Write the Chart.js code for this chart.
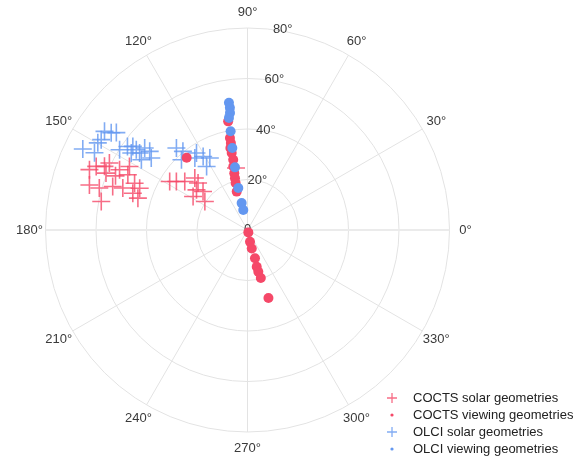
<!DOCTYPE html>
<html>
<head>
<meta charset="utf-8">
<script src="https://cdn.jsdelivr.net/npm/chart.js@4/dist/chart.umd.min.js"></script>
<style>
  html, body { margin: 0; padding: 0; background: #fff; }
  #wrap { width: 583px; height: 457px; position: relative; }
</style>
</head>
<body>
<div id="wrap"><canvas id="polar"></canvas></div>
<script>
// ===============================
// DATA (azimuth in degrees, zenith in degrees)
// ===============================

const angleTicks = [0, 30, 60, 90, 120, 150, 180, 210, 240, 270, 300, 330];
const radialTicks = [20, 40, 60, 80];
const radialMax = 80;

const coctsSolarAz = [159.1, 157.2, 156, 154.1, 158.1, 164.1, 164.2, 162.1, 161.4, 155.2, 157.5, 158.8, 162.2, 163.8, 169, 154.8, 151.7, 157.7, 148.1, 145.7, 142.3, 135.4, 136.5, 141.8, 139.1, 148.4, 146.3, 100.5];
const coctsSolarZen = [67, 65, 62, 60.8, 60.4, 65.1, 61, 56.1, 52.1, 52.2, 48.4, 45.8, 47.7, 45.2, 59, 56, 53.1, 56.5, 36.3, 34.1, 31.4, 29.3, 27, 25.7, 23.3, 25.3, 20.3, 25];

const olciSolarAz = [153.8, 145.4, 144.5, 143.4, 148.3, 153.2, 149.8, 146.5, 144.2, 144.5, 141.4, 141.2, 146.5, 143.9, 143.2, 147.9, 145.2, 130.9, 129.4, 133.2, 123.5, 121.1, 117.6, 122.8, 126.2];
const olciSolarZen = [72.7, 68.8, 66.3, 64.7, 68.1, 67.9, 68.6, 55.2, 54.3, 52.5, 52.1, 49.7, 50.4, 56.2, 47.6, 59.8, 57.9, 43, 40.3, 38.2, 36.6, 34, 32.2, 29.9, 35.3];

const coctsViewAz = [100.1, 100.8, 100.8, 101.6, 101.5, 103.1, 103.6, 104.2, 105.7, 102.6, 101.8, 130.1, 289, 282, 283, 284.8, 284.1, 284.5, 285.5, 287.1];
const coctsViewZen = [43.7, 37.1, 35.1, 31.1, 28.4, 23.1, 21.1, 19.2, 15.8, 25.8, 33.2, 37.4, 1, 4.8, 7.5, 11.6, 15, 17.1, 19.7, 28.2];

const olciViewAz = [98.3, 98.2, 98.5, 99.4, 99.7, 100.5, 101.3, 102.4, 102.3, 101.9];
const olciViewZen = [50.9, 48.9, 46.9, 45, 39.7, 33, 25.3, 17, 10.9, 8.1];

const seriesLabels = ["COCTS solar geometries", "COCTS viewing geometries", "OLCI solar geometries", "OLCI viewing geometries"];

// ===============================
// HELPERS
// ===============================

const RED = "rgba(245, 72, 104, 1)";
const RED_T = "rgba(245, 72, 104, 0.8)";
const BLUE = "rgba(99, 151, 240, 1)";
const BLUE_T = "rgba(99, 151, 240, 0.8)";
const FONT = "'Liberation Sans', Arial, sans-serif";

function toXY(az, zen) {
  return az.map((a, i) => {
    const t = a * Math.PI / 180;
    return { x: zen[i] * Math.cos(t), y: zen[i] * Math.sin(t) };
  });
}

// polar grid + labels drawn under the points
const polarGrid = {
  id: "polarGrid",
  beforeDatasetsDraw(chart) {
    const ctx = chart.ctx;
    const xs = chart.scales.x, ys = chart.scales.y;
    const cx = xs.getPixelForValue(0);
    const cy = ys.getPixelForValue(0);
    const unit = xs.getPixelForValue(1) - cx;
    const R = radialMax * unit;

    ctx.save();
    ctx.strokeStyle = "#e3e3e3";
    ctx.lineWidth = 1;

    angleTicks.forEach(a => {
      const t = a * Math.PI / 180;
      ctx.beginPath();
      ctx.moveTo(cx, cy);
      ctx.lineTo(cx + R * Math.cos(t), cy - R * Math.sin(t));
      ctx.stroke();
    });

    radialTicks.forEach(r => {
      ctx.beginPath();
      ctx.arc(cx, cy, r * unit, 0, Math.PI * 2);
      ctx.stroke();
    });

    // radial axis along 0/180
    ctx.strokeStyle = "#ebebeb";
    ctx.lineWidth = 2;
    ctx.beginPath();
    ctx.moveTo(cx - R, cy);
    ctx.lineTo(cx + R, cy);
    ctx.stroke();

    ctx.fillStyle = "#3a3a3a";
    ctx.font = "13px " + FONT;
    ctx.textAlign = "center";
    ctx.textBaseline = "middle";
    angleTicks.forEach(a => {
      const t = a * Math.PI / 180;
      const d = R + 16;
      ctx.fillText(a + "°", cx + d * Math.cos(t), cy - d * Math.sin(t));
    });

    ctx.textAlign = "left";
    radialTicks.forEach(r => {
      const rp = r * unit;
      ctx.fillText(r + "°", cx + (rp - 50) * 0.167, cy - rp + 1);
    });
    ctx.textAlign = "center";
    ctx.fillText("0", cx, cy - 1);
    ctx.restore();
  }
};

// legend in the lower right
const polarLegend = {
  id: "polarLegend",
  afterDraw(chart) {
    const ctx = chart.ctx;
    const x0 = 392, y0 = 398, step = 17;
    ctx.save();
    chart.data.datasets.forEach((ds, i) => {
      const y = y0 + i * step;
      ctx.strokeStyle = ds.borderColor;
      ctx.fillStyle = ds.backgroundColor;
      if (ds.pointStyle === "cross") {
        ctx.lineWidth = 1.3;
        ctx.beginPath();
        ctx.moveTo(x0 - 5, y); ctx.lineTo(x0 + 5, y);
        ctx.moveTo(x0, y - 5); ctx.lineTo(x0, y + 5);
        ctx.stroke();
      } else {
        ctx.beginPath();
        ctx.arc(x0, y, 1.6, 0, Math.PI * 2);
        ctx.fill();
      }
      ctx.fillStyle = "#222";
      ctx.font = "13px " + FONT;
      ctx.textAlign = "left";
      ctx.textBaseline = "middle";
      ctx.fillText(ds.label, x0 + 21, y);
    });
    ctx.restore();
  }
};

// ===============================
// CHART
// ===============================

new Chart(document.getElementById("polar"), {
  type: "scatter",
  data: {
    datasets: [
      {
        label: seriesLabels[0],
        data: toXY(coctsSolarAz, coctsSolarZen),
        pointStyle: "cross",
        pointRadius: 9,
        borderWidth: 1.6,
        borderColor: RED_T,
        backgroundColor: RED_T,
        order: 3
      },
      {
        label: seriesLabels[1],
        data: toXY(coctsViewAz, coctsViewZen),
        pointStyle: "circle",
        pointRadius: 5,
        borderWidth: 0,
        borderColor: RED,
        backgroundColor: RED,
        order: 1
      },
      {
        label: seriesLabels[2],
        data: toXY(olciSolarAz, olciSolarZen),
        pointStyle: "cross",
        pointRadius: 9,
        borderWidth: 1.6,
        borderColor: BLUE_T,
        backgroundColor: BLUE_T,
        order: 2
      },
      {
        label: seriesLabels[3],
        data: toXY(olciViewAz, olciViewZen),
        pointStyle: "circle",
        pointRadius: 5,
        borderWidth: 0,
        borderColor: BLUE,
        backgroundColor: BLUE,
        order: 0
      }
    ]
  },
  options: {
    responsive: true,
    maintainAspectRatio: false,
    animation: false,
    events: [],
    layout: { padding: { left: 45.5, right: 133.5, top: 28, bottom: 25 } },
    scales: {
      x: { type: "linear", min: -radialMax, max: radialMax, display: false },
      y: { type: "linear", min: -radialMax, max: radialMax, display: false }
    },
    plugins: {
      legend: { display: false },
      tooltip: { enabled: false }
    }
  },
  plugins: [polarGrid, polarLegend]
});
</script>
</body>
</html>
